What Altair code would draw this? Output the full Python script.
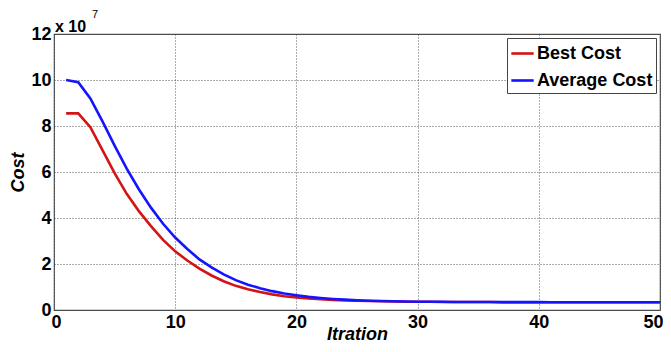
import altair as alt
import pandas as pd

iterations = list(range(1, 51))
best_cost = [8.55, 8.55, 7.95, 6.95, 5.95, 5.05, 4.30, 3.65, 3.05, 2.55,
             2.15, 1.80, 1.50, 1.25, 1.05, 0.90, 0.78, 0.68, 0.60, 0.55,
             0.50, 0.47, 0.44, 0.42, 0.40, 0.39, 0.38, 0.37, 0.36, 0.36,
             0.36, 0.35, 0.35, 0.35, 0.35, 0.35, 0.33, 0.33, 0.33, 0.33,
             0.34, 0.34, 0.34, 0.34, 0.34, 0.34, 0.34, 0.34, 0.34, 0.34]
avg_cost = [10.0, 9.90, 9.20, 8.20, 7.15, 6.15, 5.25, 4.45, 3.75, 3.15,
            2.65, 2.20, 1.85, 1.55, 1.30, 1.10, 0.95, 0.82, 0.72, 0.64,
            0.57, 0.52, 0.48, 0.45, 0.42, 0.40, 0.39, 0.38, 0.37, 0.36,
            0.36, 0.36, 0.35, 0.35, 0.35, 0.35, 0.35, 0.35, 0.35, 0.35,
            0.34, 0.34, 0.34, 0.34, 0.34, 0.34, 0.34, 0.34, 0.34, 0.34]
series_names = ["Best Cost", "Average Cost"]
series_colors = ["#d41414", "#1414ff"]

rows = []
for i, b, a in zip(iterations, best_cost, avg_cost):
    rows.append({"Iteration": i, "Cost": b, "Series": series_names[0]})
    rows.append({"Iteration": i, "Cost": a, "Series": series_names[1]})
df = pd.DataFrame(rows)

FONT = "Liberation Sans"

lines = alt.Chart(df).mark_line(strokeWidth=2.6).encode(
    x=alt.X("Iteration:Q", scale=alt.Scale(domain=[0, 50], nice=False),
            axis=alt.Axis(values=[0, 10, 20, 30, 40, 50], title="Itration",
                          format="d", labelFlush=True, labelFlushOffset=3)),
    y=alt.Y("Cost:Q", scale=alt.Scale(domain=[0, 12], nice=False),
            axis=alt.Axis(values=[0, 2, 4, 6, 8, 10, 12], title="Cost",
                          format="d")),
    color=alt.Color("Series:N", sort=series_names,
                    scale=alt.Scale(domain=series_names, range=series_colors),
                    legend=alt.Legend(title=None, orient="top-right",
                                      symbolType="stroke", symbolStrokeWidth=2.6,
                                      symbolSize=500, labelFontSize=18,
                                      labelFont=FONT, labelFontWeight="bold",
                                      labelColor="black",
                                      strokeColor="#444444", fillColor="white",
                                      padding=3, offset=4, rowPadding=5,
                                      labelOffset=2, symbolOffset=0)),
    order=alt.Order("series_order:Q"),
).transform_calculate(
    series_order="datum.Series == 'Best Cost' ? 0 : 1"
)

exp_base = alt.Chart(pd.DataFrame({"t": ["x 10"]})).mark_text(
    align="left", baseline="alphabetic", font=FONT, fontSize=16,
    fontWeight="bold", color="black"
).encode(x=alt.value(1), y=alt.value(-2), text="t:N")

exp_sup = alt.Chart(pd.DataFrame({"t": ["7"]})).mark_text(
    align="left", baseline="alphabetic", font=FONT, fontSize=11,
    color="black"
).encode(x=alt.value(38), y=alt.value(-16), text="t:N")

chart = alt.layer(lines, exp_base, exp_sup).properties(
    width=606, height=276,
    autosize=alt.AutoSizeParams(type="none"),
    padding={"left": 46, "top": 26, "right": 3, "bottom": 34},
).configure_view(
    stroke="#555555", strokeWidth=1.2
).configure_axis(
    grid=True, gridColor="#333333", gridDash=[1, 2], gridOpacity=0.8,
    gridWidth=1,
    domain=False, ticks=False,
    labelFont=FONT, labelFontSize=18, labelFontWeight="bold",
    labelColor="black", labelPadding=3,
    titleFont=FONT, titleFontSize=18, titleFontWeight="bold",
    titleFontStyle="italic", titleColor="black",
).configure_axisX(
    titleBaseline="alphabetic", titleY=29, labelPadding=3
).configure_axisY(
    titlePadding=3
)

chart.save("out.html", embed_options={"renderer": "svg", "actions": False})
